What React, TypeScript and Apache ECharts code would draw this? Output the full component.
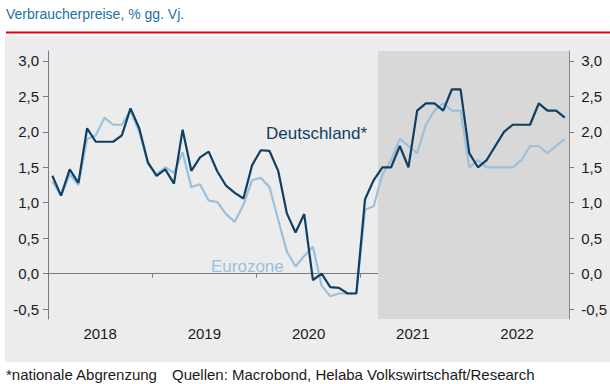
import React, { useEffect, useRef } from "react";
import * as echarts from "echarts";

const years = ["2018", "2019", "2020", "2021", "2022"];
const monthsPerYear = 12;
const yTicks = [-0.5, 0, 0.5, 1.0, 1.5, 2.0, 2.5, 3.0];
const forecastStartMonth = 38;

const deutschland = [
  1.38, 1.1, 1.47, 1.28, 2.05, 1.86, 1.86, 1.86, 1.95, 2.33, 2.05, 1.57,
  1.38, 1.47, 1.27, 2.03, 1.45, 1.64, 1.72, 1.44, 1.24, 1.14, 1.06, 1.53,
  1.74, 1.73, 1.45, 0.85, 0.58, 0.84, -0.09, 0.0, -0.19, -0.2, -0.28, -0.28,
  1.05, 1.32, 1.5, 1.5, 1.8, 1.5, 2.3, 2.4, 2.4, 2.3, 2.6, 2.6,
  1.7, 1.5, 1.6, 1.8, 2.0, 2.1, 2.1, 2.1, 2.4, 2.3, 2.3, 2.2,
];

const eurozone = [
  1.3, 1.1, 1.4, 1.25, 1.9, 1.95, 2.2, 2.1, 2.1, 2.3, 2.0, 1.55,
  1.4, 1.5, 1.42, 1.71, 1.22, 1.26, 1.03, 1.01, 0.84, 0.73, 0.97, 1.32,
  1.35, 1.22, 0.76, 0.31, 0.1, 0.25, 0.38, -0.17, -0.32, -0.28, -0.28, -0.28,
  0.9, 0.95, 1.4, 1.6, 1.9, 1.8, 1.7, 2.1, 2.3, 2.4, 2.3, 2.3,
  1.5, 1.6, 1.5, 1.5, 1.5, 1.5, 1.6, 1.8, 1.8, 1.7, 1.8, 1.9,
];

const FONT = "'Liberation Sans', Arial, sans-serif";
const fmt = (v: number) => v.toFixed(1).replace(".", ",");

export default function App() {
  const ref = useRef<HTMLDivElement>(null);
  useEffect(() => {
    if (!ref.current) return;
    const chart = echarts.init(ref.current, null, { renderer: "svg" });
    const total = years.length * monthsPerYear;
    const toPts = (arr: number[]) => arr.map((v, i) => [i + 0.5, v]);
    const yAxisBase = {
      type: "value",
      min: -0.64,
      max: 3.14,
      splitLine: { show: false },
      axisLine: { show: true, lineStyle: { color: "#7a7a7a", width: 1 } },
      axisTick: { show: true, length: 5, customValues: yTicks, lineStyle: { color: "#7a7a7a" } },
      axisLabel: {
        customValues: yTicks,
        formatter: fmt,
        color: "#1a1a1a",
        fontSize: 15,
        fontFamily: FONT,
        margin: 9,
      },
    };
    chart.setOption({
      animation: false,
      grid: { left: 48, right: 38, top: 51, bottom: 65, containLabel: false },
      graphic: [
        {
          type: "rect",
          z: -100,
          silent: true,
          shape: { x: 5, y: 36, width: 605, height: 326 },
          style: { fill: "#ececec" },
        },
        {
          type: "rect",
          z: -99,
          silent: true,
          shape: { x: 6, y: 31.5, width: 604, height: 2 },
          style: { fill: "#e8000f" },
        },
        {
          type: "text",
          x: 6,
          y: 14,
          style: {
            text: "Verbraucherpreise, % gg. Vj.",
            fill: "#1f6fa1",
            font: `14px ${FONT}`,
            textVerticalAlign: "middle",
          },
        },
        {
          type: "text",
          x: 266,
          y: 133,
          z: 10,
          style: {
            text: "Deutschland*",
            fill: "#0f3f62",
            font: `17px ${FONT}`,
            textVerticalAlign: "middle",
          },
        },
        {
          type: "text",
          x: 211,
          y: 266,
          z: 10,
          style: {
            text: "Eurozone",
            fill: "#9cc0dc",
            font: `17px ${FONT}`,
            textVerticalAlign: "middle",
          },
        },
        {
          type: "text",
          x: 6,
          y: 374,
          style: {
            text: "*nationale Abgrenzung",
            fill: "#1a1a1a",
            font: `15px ${FONT}`,
            textVerticalAlign: "middle",
          },
        },
        {
          type: "text",
          x: 172,
          y: 374,
          style: {
            text: "Quellen: Macrobond, Helaba Volkswirtschaft/Research",
            fill: "#1a1a1a",
            font: `15px ${FONT}`,
            textVerticalAlign: "middle",
          },
        },
      ],
      xAxis: [
        {
          type: "category",
          data: years,
          boundaryGap: true,
          axisLine: { show: true, lineStyle: { color: "#7a7a7a", width: 1 } },
          axisTick: { show: true, length: 4, interval: 0, lineStyle: { color: "#7a7a7a" } },
          axisLabel: { color: "#1a1a1a", fontSize: 15, fontFamily: FONT, margin: 7 },
          splitLine: { show: false },
        },
        {
          type: "value",
          min: 0,
          max: total,
          show: false,
        },
      ],
      yAxis: [
        { ...yAxisBase, position: "left" },
        { ...yAxisBase, position: "right", axisLabel: { ...yAxisBase.axisLabel, margin: 12 } },
      ],
      series: [
        {
          type: "line",
          xAxisIndex: 1,
          yAxisIndex: 0,
          data: [],
          z: 1,
          silent: true,
          markArea: {
            silent: true,
            itemStyle: { color: "#d8d8d8" },
            data: [[{ xAxis: forecastStartMonth }, { xAxis: total }]],
          },
        },
        {
          name: "Eurozone",
          type: "line",
          xAxisIndex: 1,
          yAxisIndex: 0,
          data: toPts(eurozone),
          showSymbol: false,
          symbol: "none",
          z: 3,
          lineStyle: { color: "#9cc0dc", width: 2.2 },
        },
        {
          name: "Deutschland",
          type: "line",
          xAxisIndex: 1,
          yAxisIndex: 0,
          data: toPts(deutschland),
          showSymbol: false,
          symbol: "none",
          z: 4,
          lineStyle: { color: "#0f3f62", width: 2.2 },
        },
      ],
    });
    return () => chart.dispose();
  }, []);
  return (
    <div
      ref={ref}
      style={{ position: "fixed", left: 0, top: 0, width: 610, height: 384, background: "#fff" }}
    />
  );
}
